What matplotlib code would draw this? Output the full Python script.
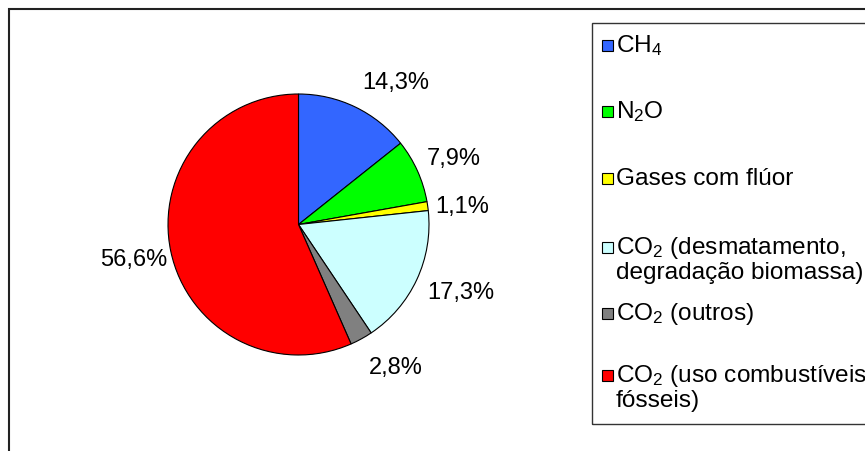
import numpy as np
import matplotlib
matplotlib.use("Agg")
import matplotlib.pyplot as plt
from matplotlib.patches import Rectangle

plt.rcParams["font.family"] = ["Liberation Sans", "DejaVu Sans"]
plt.rcParams["mathtext.fontset"] = "custom"
plt.rcParams["mathtext.rm"] = "Liberation Sans"
plt.rcParams["mathtext.it"] = "Liberation Sans:italic"
plt.rcParams["mathtext.bf"] = "Liberation Sans:bold"
plt.rcParams["mathtext.default"] = "rm"

# Emission shares by gas (%)
categories = [
    "CH$_4$",
    "N$_2$O",
    "Gases com flúor",
    "CO$_2$ (desmatamento,\ndegradação biomassa)",
    "CO$_2$ (outros)",
    "CO$_2$ (uso combustíveis\nfósseis)",
]
shares = [14.3, 7.9, 1.1, 17.3, 2.8, 56.6]
colors = ["#3366FF", "#00FF00", "#FFFF00", "#CCFFFF", "#808080", "#FF0000"]

# label placement: radial distance and angular nudge (deg) per slice
label_dist = [1.32, 1.29, 1.26, 1.35, 1.32, 1.29]
label_nudge = [-8.5, -1.2, -1.6, 2.4, 5.6, -0.2]

W, H = 865, 452
DPI = 100
fig = plt.figure(figsize=(W / DPI, H / DPI), dpi=DPI)


def fx(x):
    return x / W


def fy(y):
    return 1 - y / H


# outer chart frame (continues past the right and bottom edges)
fig.add_artist(Rectangle((fx(9), fy(H + 5)), fx(W + 10 - 9), (H + 5 - 10) / H,
                         transform=fig.transFigure, fill=False,
                         edgecolor="#222222", linewidth=1.5))

# pie axes: centre (298.5, 225.5) px, radius 130.5 px
cx, cy, r = 298.5, 225.5, 130.5
ax = fig.add_axes([fx(cx - r), fy(cy + r), 2 * r / W, 2 * r / H])
wedges, _ = ax.pie(shares, colors=colors, startangle=90, counterclock=False,
                   wedgeprops=dict(edgecolor="black", linewidth=0.8))
ax.set_xlim(-1, 1)
ax.set_ylim(-1, 1)
ax.set_aspect("equal")
ax.axis("off")

for w, v, d, n in zip(wedges, shares, label_dist, label_nudge):
    ang = np.deg2rad((w.theta1 + w.theta2) / 2 + n)
    ax.text(d * np.cos(ang), d * np.sin(ang), f"{v:.1f}%".replace(".", ","),
            ha="center", va="center", fontsize=17, color="black",
            clip_on=False)

# legend box (continues past the right edge)
fig.add_artist(Rectangle((fx(592), fy(425)), fx(W + 10 - 592), (425 - 24) / H,
                         transform=fig.transFigure, fill=False,
                         edgecolor="#333333", linewidth=1.0))

row_y = [46, 112, 179, 248, 314, 376]
line_gap = 25
for lab, col, y in zip(categories, colors, row_y):
    fig.add_artist(Rectangle((fx(602), fy(y + 6)), 11 / W, 11 / H,
                             transform=fig.transFigure, facecolor=col,
                             edgecolor="black", linewidth=0.8))
    for k, line in enumerate(lab.split("\n")):
        fig.text(fx(616), fy(y + k * line_gap), line, ha="left", va="center",
                 fontsize=17.6, color="black")

fig.savefig("out.png", dpi=DPI)
